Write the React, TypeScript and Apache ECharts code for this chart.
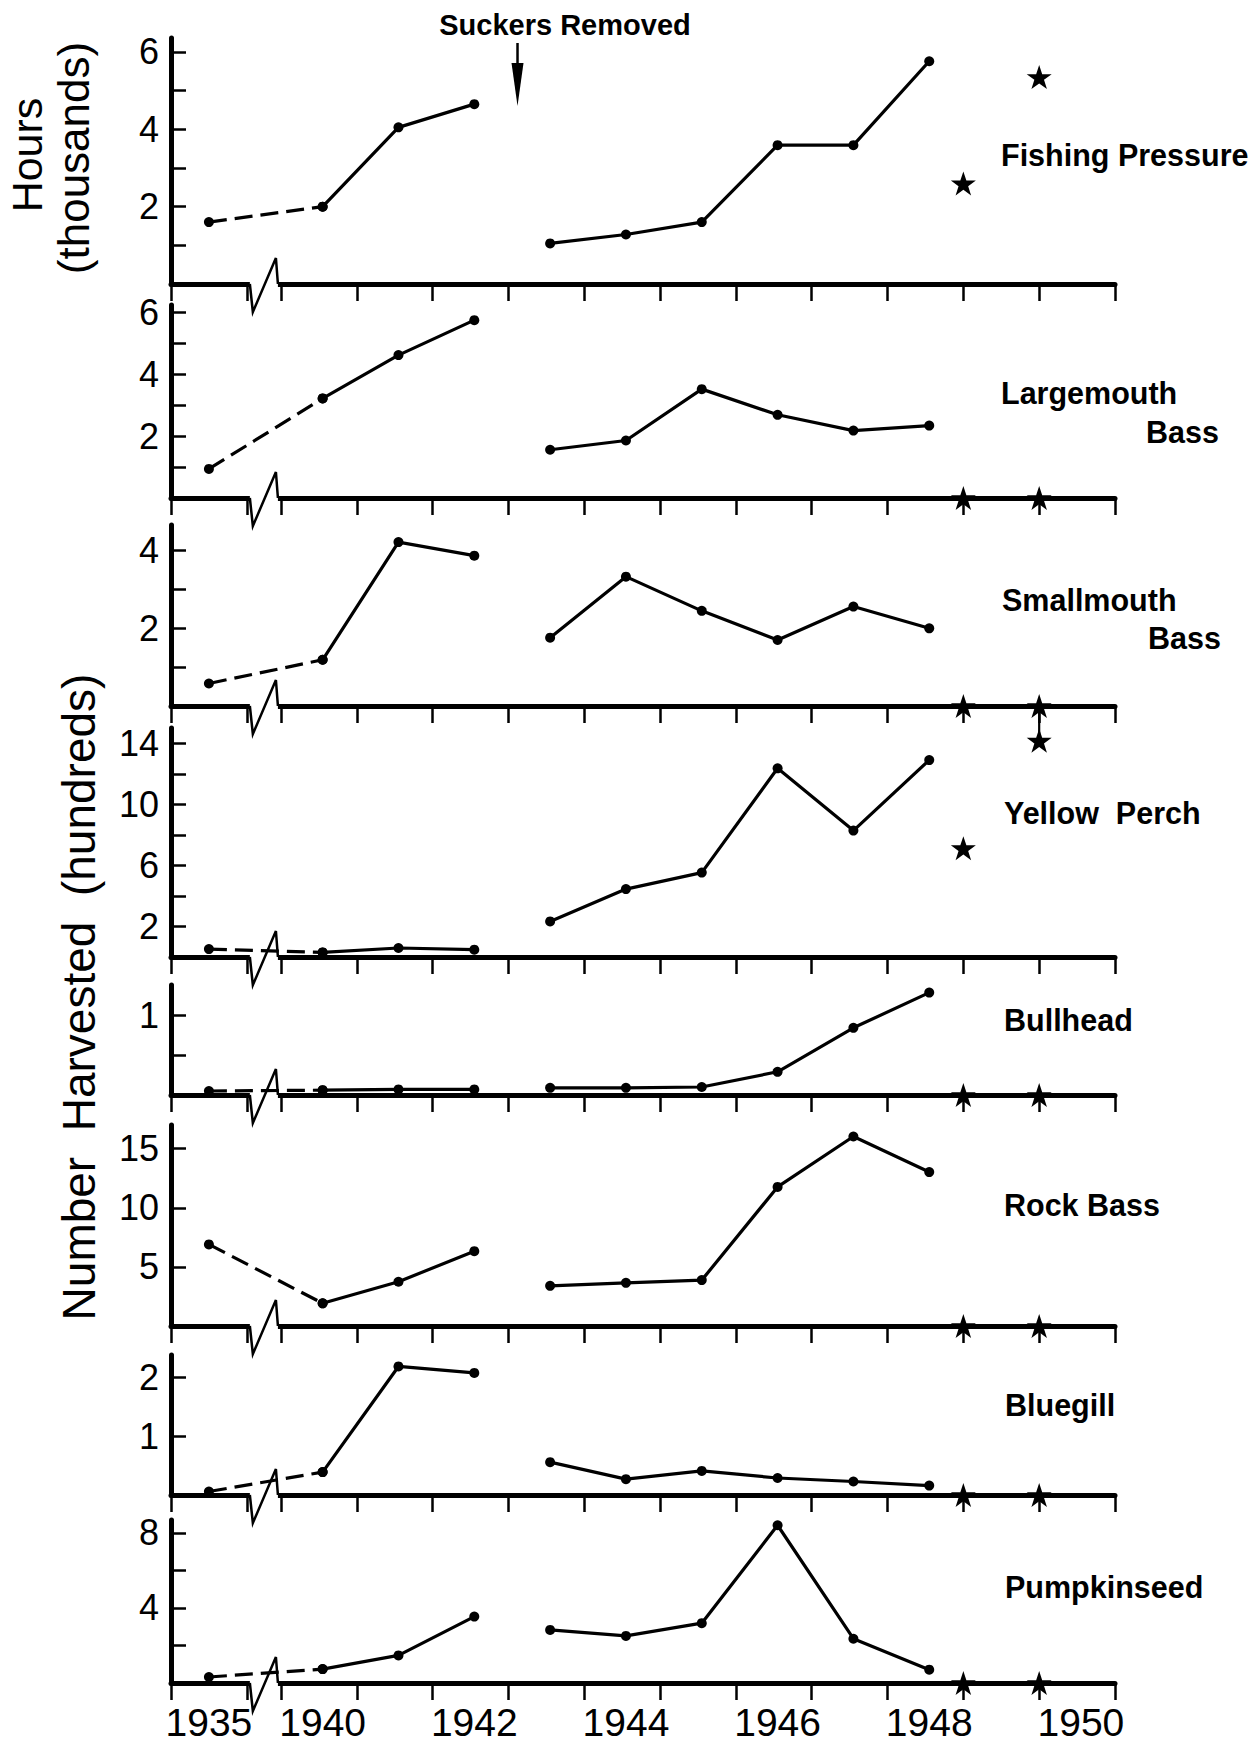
import React, { useEffect, useRef } from 'react';
import * as echarts from 'echarts';

// ---------- data ----------
const YEARS = ['1935', '1940', '1941', '1942', '1943', '1944', '1945', '1946', '1947', '1948'];
const STAR_X = [1948.45, 1949.45];
const X_TICKS = [1938, 1939, 1939.45, 1940.45, 1941.45, 1942.45, 1943.45, 1944.45, 1945.45, 1946.45, 1947.45, 1948.45, 1949.45, 1950.45];
const X_LABELS = ['1935', '1940', '1942', '1944', '1946', '1948', '1950'];
const SUCKERS_REMOVED_AT = 1942.57;

const FISHING_PRESSURE = [1.6, 2.0, 4.05, 4.65, 1.05, 1.28, 1.6, 3.59, 3.59, 5.76];
const FISHING_PRESSURE_STARS = [2.6, 5.35];
const LARGEMOUTH = [0.94, 3.22, 4.62, 5.75, 1.56, 1.86, 3.52, 2.69, 2.18, 2.34];
const LARGEMOUTH_STARS = [0, 0];
const SMALLMOUTH = [0.58, 1.19, 4.22, 3.87, 1.76, 3.33, 2.45, 1.7, 2.56, 2.0];
const SMALLMOUTH_STARS = [0, 0];
const YELLOW_PERCH = [0.52, 0.3, 0.59, 0.48, 2.33, 4.45, 5.53, 12.36, 8.28, 12.9];
const YELLOW_PERCH_STARS = [7.13, 14.17];
const BULLHEAD = [0.05, 0.06, 0.07, 0.07, 0.09, 0.09, 0.1, 0.29, 0.84, 1.28];
const BULLHEAD_STARS = [0, 0];
const ROCK_BASS = [6.9, 1.92, 3.74, 6.33, 3.4, 3.65, 3.88, 11.76, 16.03, 13.02];
const ROCK_BASS_STARS = [0, 0];
const BLUEGILL = [0.06, 0.39, 2.19, 2.08, 0.56, 0.27, 0.41, 0.29, 0.23, 0.16];
const BLUEGILL_STARS = [0, 0];
const PUMPKINSEED = [0.32, 0.74, 1.47, 3.54, 2.83, 2.51, 3.19, 8.41, 2.36, 0.71];
const PUMPKINSEED_STARS = [0, 0];

const PANEL_NAMES = [
  ['Fishing Pressure'],
  ['Largemouth', 'Bass'],
  ['Smallmouth', 'Bass'],
  ['Yellow  Perch'],
  ['Bullhead'],
  ['Rock Bass'],
  ['Bluegill'],
  ['Pumpkinseed'],
];
const PANEL_VALUES = [FISHING_PRESSURE, LARGEMOUTH, SMALLMOUTH, YELLOW_PERCH, BULLHEAD, ROCK_BASS, BLUEGILL, PUMPKINSEED];
const PANEL_STARS = [FISHING_PRESSURE_STARS, LARGEMOUTH_STARS, SMALLMOUTH_STARS, YELLOW_PERCH_STARS, BULLHEAD_STARS, ROCK_BASS_STARS, BLUEGILL_STARS, PUMPKINSEED_STARS];
const Y_MAX = [6.36, 6.24, 4.66, 15, 1.375, 17, 2.385, 8.69];
const Y_TICKS = [
  [1, 2, 3, 4, 5, 6],
  [1, 2, 3, 4, 5, 6],
  [1, 2, 3, 4],
  [2, 4, 6, 8, 10, 12, 14],
  [0.5, 1],
  [5, 10, 15],
  [1, 2],
  [2, 4, 6, 8],
];
const Y_LABELS = [
  [2, 4, 6],
  [2, 4, 6],
  [2, 4],
  [2, 6, 10, 14],
  [1],
  [5, 10, 15],
  [1, 2],
  [4, 8],
];

// ---------- layout ----------
const X_MIN = 1938;
const X_MAX = 1950.45;
const BREAK_SLOT = 1938.5; // where 1935 sits on the broken axis
const BREAK_FROM = 1939.04;
const BREAK_TO = 1939.41;
const GRID_LEFT = 171;
const GRID_WIDTH = 944;
const PANEL_TOP = [38, 305, 525, 728, 985, 1125, 1355, 1520];
const PANEL_BASE = [284, 498, 706, 957, 1095, 1326, 1495, 1683];
const NAME_POS = [
  [[1001, 155, 'left']],
  [[1001, 393, 'left'], [1219, 432, 'right']],
  [[1002, 600, 'left'], [1221, 638, 'right']],
  [[1004, 813, 'left']],
  [[1004, 1020, 'left']],
  [[1004, 1205, 'left']],
  [[1005, 1405, 'left']],
  [[1005, 1587, 'left']],
];

const FONT = 'Liberation Sans';
const STAR =
  'path://M50,0 L61.8,35.1 L98.8,35.1 L68.8,56.7 L80.3,91.9 L50,70.2 L19.7,91.9 L31.2,56.7 L1.2,35.1 L38.2,35.1 Z';

const xOf = (label: string) => (label === '1935' ? BREAK_SLOT : Number(label));
const labelOf = (v: number) => {
  const hit = X_LABELS.find((l) => Math.abs(xOf(l) - v) < 1e-6);
  return hit || '';
};

function buildOption() {
  const grid: any[] = [];
  const xAxis: any[] = [];
  const yAxis: any[] = [];
  const series: any[] = [];
  const graphic: any[] = [];

  PANEL_VALUES.forEach((vals, i) => {
    grid.push({ left: GRID_LEFT, width: GRID_WIDTH, top: PANEL_TOP[i], height: PANEL_BASE[i] - PANEL_TOP[i] });
    xAxis.push({
      gridIndex: i,
      type: 'value',
      min: X_MIN,
      max: X_MAX,
      axisLine: { show: true, onZero: false, lineStyle: { color: '#000', width: 5 } },
      axisTick: { show: true, customValues: X_TICKS, length: 17, lineStyle: { color: '#000', width: 2.5 } },
      axisLabel: {
        show: i === PANEL_VALUES.length - 1,
        customValues: X_LABELS.map(xOf),
        formatter: (v: number) => labelOf(v),
        fontFamily: FONT,
        fontSize: 39,
        color: '#000',
        margin: 20,
      },
      splitLine: { show: false },
    });
    yAxis.push({
      gridIndex: i,
      type: 'value',
      min: 0,
      max: Y_MAX[i],
      axisLine: { show: true, onZero: false, lineStyle: { color: '#000', width: 5 } },
      axisTick: { show: true, inside: true, customValues: Y_TICKS[i], length: 15, lineStyle: { color: '#000', width: 2.5 } },
      axisLabel: {
        customValues: Y_LABELS[i],
        fontFamily: FONT,
        fontSize: 36,
        color: '#000',
        margin: 12,
      },
      splitLine: { show: false },
    });

    const pts = YEARS.map((y, k) => [xOf(y), vals[k]]);
    const common = {
      type: 'line',
      xAxisIndex: i,
      yAxisIndex: i,
      symbol: 'circle',
      symbolSize: 10,
      itemStyle: { color: '#000', opacity: 1 },
      clip: false,
      z: 3,
    };
    series.push({ ...common, data: pts.slice(0, 2), lineStyle: { color: '#000', width: 3.2, type: [18, 8] } });
    series.push({ ...common, data: pts.slice(1, 4), lineStyle: { color: '#000', width: 3.2 } });
    series.push({ ...common, data: pts.slice(4), lineStyle: { color: '#000', width: 3.2 } });
    series.push({
      type: 'scatter',
      xAxisIndex: i,
      yAxisIndex: i,
      symbol: STAR,
      symbolSize: [25, 24],
      itemStyle: { color: '#000', opacity: 1 },
      clip: false,
      z: 4,
      data: STAR_X.map((x, k) => [x, PANEL_STARS[i][k]]),
    });
    series.push({
      type: 'custom',
      xAxisIndex: i,
      yAxisIndex: i,
      z: 1,
      silent: true,
      clip: false,
      encode: { x: [0, 1] },
      data: [[BREAK_FROM, BREAK_TO]],
      renderItem: (_p: any, api: any) => {
        const a = api.coord([api.value(0), 0]);
        const b = api.coord([api.value(1), 0]);
        return {
          type: 'group',
          children: [
            { type: 'rect', shape: { x: a[0], y: a[1] - 5, width: b[0] - a[0], height: 10 }, style: { fill: '#fff' } },
            {
              type: 'polyline',
              shape: { points: [[a[0], a[1]], [a[0] + 3, a[1] + 28], [b[0] - 2, a[1] - 26], [b[0], a[1]]] },
              style: { stroke: '#000', lineWidth: 2.5, fill: null },
            },
          ],
        };
      },
    });

    NAME_POS[i].forEach((pos, k) => {
      graphic.push({
        type: 'text',
        x: pos[0],
        y: pos[1],
        style: {
          text: PANEL_NAMES[i][k],
          fontFamily: FONT,
          fontWeight: 'bold',
          fontSize: 30.5,
          fill: '#000',
          align: pos[2],
          verticalAlign: 'middle',
        },
      });
    });
  });

  // leader from the Yellow Perch 1950 star up to the panel above
  series.push({
    type: 'custom',
    xAxisIndex: 3,
    yAxisIndex: 3,
    z: 2,
    silent: true,
    clip: false,
    data: [[STAR_X[1], YELLOW_PERCH_STARS[1]]],
    renderItem: (_p: any, api: any) => {
      const s = api.coord([api.value(0), api.value(1)]);
      const top = api.coord([api.value(0), Y_MAX[3]]);
      return {
        type: 'line',
        shape: { x1: s[0], y1: s[1], x2: s[0], y2: top[1] - 22 },
        style: { stroke: '#000', lineWidth: 2.2 },
      };
    },
  });

  // Suckers removed arrow
  series.push({
    type: 'custom',
    xAxisIndex: 0,
    yAxisIndex: 0,
    z: 5,
    silent: true,
    clip: false,
    data: [[SUCKERS_REMOVED_AT, 0]],
    renderItem: (_p: any, api: any) => {
      const x = api.coord([api.value(0), 0])[0];
      return {
        type: 'group',
        children: [
          { type: 'line', shape: { x1: x, y1: 43, x2: x, y2: 70 }, style: { stroke: '#000', lineWidth: 2.5 } },
          { type: 'polygon', shape: { points: [[x - 6, 63], [x + 6, 63], [x, 106]] }, style: { fill: '#000' } },
        ],
      };
    },
  });

  graphic.push({
    type: 'text',
    x: 565,
    y: 25,
    style: {
      text: 'Suckers Removed',
      fontFamily: FONT,
      fontWeight: 'bold',
      fontSize: 29,
      fill: '#000',
      align: 'center',
      verticalAlign: 'middle',
    },
  });
  graphic.push({
    type: 'text',
    x: 27,
    y: 155,
    rotation: Math.PI / 2,
    style: { text: 'Hours', fontFamily: FONT, fontSize: 43, fill: '#000', align: 'center', verticalAlign: 'middle' },
  });
  graphic.push({
    type: 'text',
    x: 73,
    y: 158,
    rotation: Math.PI / 2,
    style: { text: '(thousands)', fontFamily: FONT, fontSize: 44, fill: '#000', align: 'center', verticalAlign: 'middle' },
  });
  graphic.push({
    type: 'text',
    x: 79,
    y: 997,
    rotation: Math.PI / 2,
    style: {
      text: 'Number  Harvested  (hundreds)',
      fontFamily: FONT,
      fontSize: 46,
      fill: '#000',
      align: 'center',
      verticalAlign: 'middle',
    },
  });

  return { animation: false, backgroundColor: '#fff', grid, xAxis, yAxis, series, graphic };
}

export default function App() {
  const ref = useRef<HTMLDivElement>(null);
  useEffect(() => {
    if (!ref.current) return;
    const chart = echarts.init(ref.current, null, { renderer: 'svg' });
    chart.setOption(buildOption() as any);
    return () => chart.dispose();
  }, []);
  return (
    <div
      ref={ref}
      style={{ position: 'fixed', left: 0, top: 0, width: 1256, height: 1743, background: '#fff' }}
    />
  );
}
